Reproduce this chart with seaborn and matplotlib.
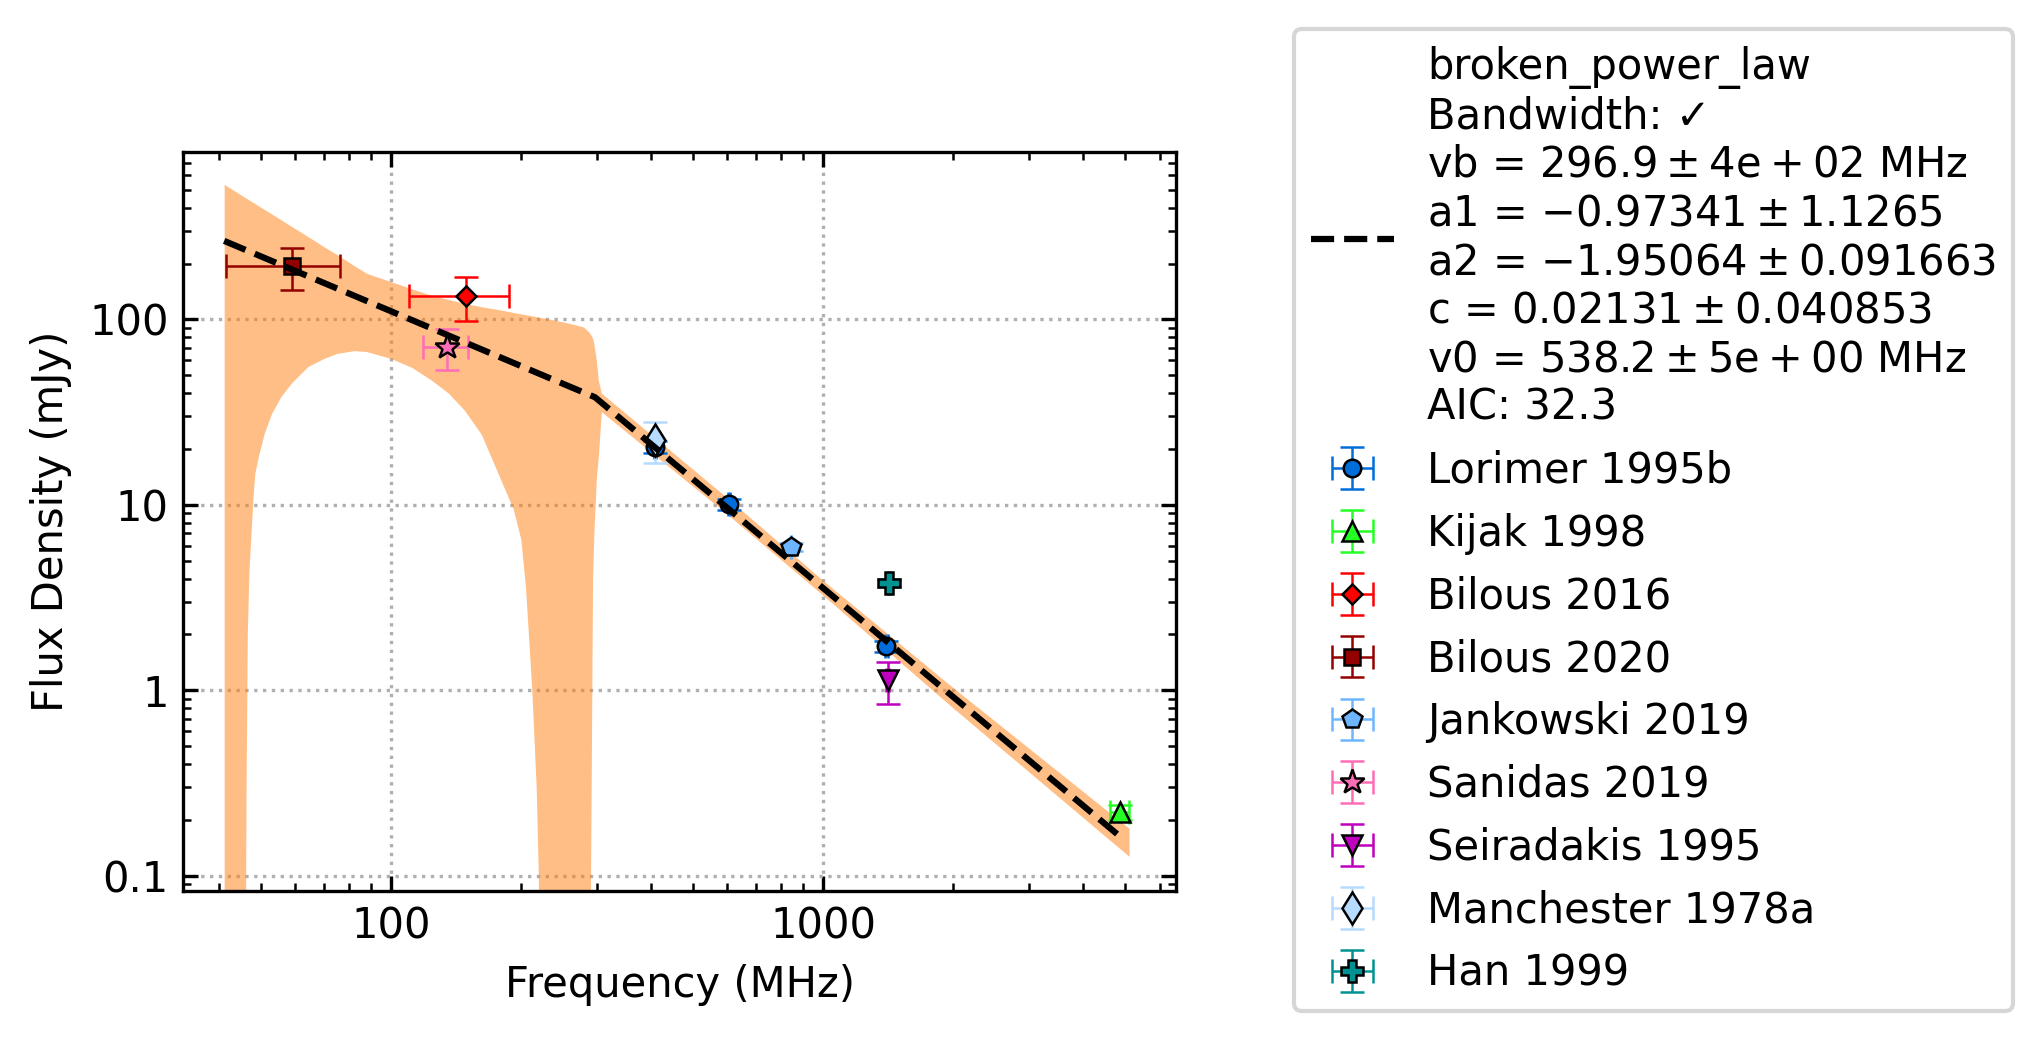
import numpy as np
import pandas as pd
import seaborn as sns
import matplotlib.pyplot as plt
from matplotlib import ticker

# 측정값 (주파수 MHz, 플럭스 mJy)
labels = ['Lorimer 1995b', 'Kijak 1998', 'Bilous 2016', 'Bilous 2020', 'Jankowski 2019',
          'Sanidas 2019', 'Seiradakis 1995', 'Manchester 1978a', 'Han 1999']
freq = [[408, 606, 1400], [4850], [149], [59], [843], [135], [1410], [408], [1420]]
flux = [[20.6, 10.1, 1.73], [0.22], [134], [194], [5.94], [71], [1.13], [22.3], [3.78]]
freq_err = [[2, 3, 10], [250], [39], [17.5], [2], [16], [10], [2], [10]]
flux_err = [[1.5, 0.7, 0.12], [0.02], [36], [50], [0.3], [18], [0.29], [5.6], [0.2]]

# 피팅 곡선 (broken power law, 꺾이는 점 포함)
fit_freq = [41.2, 296.9, 4980]
fit_flux = [265, 38.0, 0.155]

# 불확실성 영역 (하한이 음수인 구간은 축 아래 값 0.01로)
band_freq = [41.2, 46.0, 46.3, 46.6, 47.0, 48.0, 48.5, 49.5, 51, 53, 55.7, 59, 64.3, 70, 75, 82.3,
             88, 100, 112, 124, 136, 148, 162, 177, 192, 200, 205, 212, 217, 219.5, 221, 230,
             260, 279, 288, 293, 295, 299, 302, 307, 600, 1000, 2000, 5100]
band_upper = [535, 455, 451, 447, 441, 428, 422, 409, 392, 371, 345, 317, 280, 247, 224, 195,
              177, 160, 146, 135, 128, 122, 117, 113, 109, 107, 106, 104.5, 103.5, 103, 102.5, 101,
              95, 91, 85, 79, 74, 60, 47, 40, 10.9, 3.9, 1.03, 0.18]
band_lower = [0.01, 0.01, 0.3, 2.0, 4.3, 10.6, 14.8, 18.5, 24.3, 31, 38.3, 45.5, 55.6, 61.5, 65.5, 67.8,
              67, 61.6, 55, 47.1, 40, 32.4, 24, 14.8, 9.5, 6.5, 3.6, 1.0, 0.3, 0.1, 0.01, 0.01,
              0.01, 0.01, 0.01, 4, 7, 14, 18, 31.8, 8.9, 3.25, 0.8, 0.127]

fit_label = ("broken_power_law\nBandwidth: \u2713\n"
             r"vb = $296.9 \pm 4e+02$ MHz" "\n"
             r"a1 = $-0.97341 \pm 1.1265$" "\n"
             r"a2 = $-1.95064 \pm 0.091663$" "\n"
             r"c = $0.02131 \pm 0.040853$" "\n"
             r"v0 = $538.2 \pm 5e+00$ MHz" "\n"
             "AIC: 32.3")

markers = ['o', '^', 'D', 's', 'p', '*', 'v', 'd', 'P']
colors = ["#006ddb", "#24ff24", "red", "#920000", "#6db6ff", "#ff6db6", "m", "#b6dbff", "#009292"]
sizes = [4.2, 4.6, 3.5, 4.0, 4.8, 6.2, 4.6, 5.4, 5.5]

sns.set_style("ticks")
plt.rcParams['font.family'] = ['DejaVu Sans']
plt.rcParams['mathtext.default'] = 'regular'
plt.rcParams.update({'text.color': 'black', 'axes.labelcolor': 'black', 'axes.edgecolor': 'black',
                     'xtick.color': 'black', 'ytick.color': 'black', 'font.size': 10,
                     'axes.labelsize': 10, 'xtick.labelsize': 10, 'ytick.labelsize': 10,
                     'legend.fontsize': 10, 'axes.linewidth': 0.8})

fig = plt.figure(figsize=(2043 / 300, 1042 / 300), dpi=300)
ax = fig.add_axes([0.0896, 0.1452, 0.4860, 0.7092])

ax.fill_between(band_freq, band_lower, band_upper, color='#ff7f0e', alpha=0.5, lw=0, zorder=1)

handles = []
for i in range(len(labels)):
    h = ax.errorbar(freq[i], flux[i], xerr=freq_err[i], yerr=flux_err[i], fmt=markers[i],
                    color=colors[i], mfc=colors[i], mec='black', mew=0.6, ms=sizes[i],
                    elinewidth=0.6, capthick=0.6, capsize=2.8, label=labels[i], zorder=2)
    handles.append(h)

fitdf = pd.DataFrame({'freq': fit_freq, 'flux': fit_flux})
sns.lineplot(data=fitdf, x='freq', y='flux', ax=ax, color='black', linestyle='--', lw=1.5,
             zorder=3, legend=False)
fit_line = ax.get_lines()[-1]

ax.set_xscale('log')
ax.set_yscale('log')
ax.set_xlim(33.1, 6546)
ax.set_ylim(0.0829, 802)
fmt = ticker.FuncFormatter(lambda v, _: f'{v:g}')
ax.xaxis.set_major_formatter(fmt)
ax.yaxis.set_major_formatter(fmt)
ax.xaxis.set_minor_formatter(ticker.NullFormatter())
ax.yaxis.set_minor_formatter(ticker.NullFormatter())
ax.tick_params(which='both', direction='in', top=True, right=True)
ax.tick_params(which='major', length=3.5, width=0.8)
ax.tick_params(which='minor', length=2, width=0.6)
ax.grid(True, which='major', ls=':', color='#b0b0b0', lw=0.8)
ax.set_xlabel('Frequency (MHz)')
ax.set_ylabel('Flux Density (mJy)')

fig.legend([fit_line] + handles, [fit_label] + labels, loc='upper left',
           bbox_to_anchor=(0.6334, 0.9722), borderaxespad=0, frameon=True,
           fancybox=True, edgecolor='0.8', framealpha=0.8)

fig.savefig('out.png', dpi=300)
